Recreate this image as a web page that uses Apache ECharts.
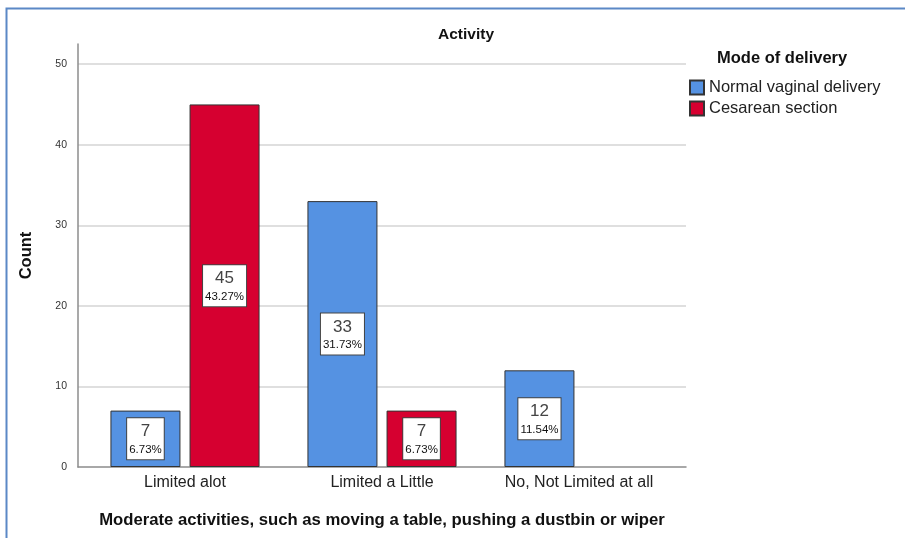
<!DOCTYPE html>
<html>
<head>
<meta charset="utf-8">
<script src="https://cdn.jsdelivr.net/npm/echarts@6/dist/echarts.min.js"></script>
<style>
  html, body { margin: 0; padding: 0; background: #fff; }
  #chart { width: 905px; height: 538px; }
</style>
</head>
<body>
<div id="chart"></div>
<script>
// Clustered bar chart: moderate activity limitation by mode of delivery
const categories = ['Limited alot', 'Limited a Little', 'No, Not Limited at all'];
const seriesNames = ['Normal vaginal delivery', 'Cesarean section'];
const normalVaginal = [7, 33, 12];
const cesarean = [45, 7, null];
const yTicks = [0, 10, 20, 30, 40, 50];

const total = normalVaginal.concat(cesarean).reduce((s, v) => s + (v || 0), 0);

const FONT = 'Liberation Sans, Arial, sans-serif';
const blue = '#5592E2';
const red = '#D60030';

function countLabel(p) {
  if (p.value == null) return '';
  const pct = (p.value / total * 100).toFixed(2) + '%';
  return '{n|' + p.value + '}\n{p|' + pct + '}';
}

const labelStyle = {
  show: true,
  position: 'inside',
  formatter: countLabel,
  backgroundColor: '#fff',
  borderColor: '#444',
  borderWidth: 1,
  padding: [3, 2, 2, 2],
  align: 'center',
  rich: {
    n: { fontFamily: FONT, fontSize: 17, color: '#444', lineHeight: 21, align: 'center' },
    p: { fontFamily: FONT, fontSize: 11.5, color: '#111', lineHeight: 15, align: 'center' }
  }
};

const chart = echarts.init(document.getElementById('chart'), null, { renderer: 'canvas' });

chart.setOption({
  animation: false,
  backgroundColor: '#fff',
  graphic: [{
    type: 'rect',
    left: 4, top: 6,
    shape: { width: 960, height: 600 },
    style: { fill: 'none', stroke: '#5B88C6', lineWidth: 2 },
    silent: true
  }],
  title: [{
    text: 'Activity',
    left: 461, top: 22,
    textAlign: 'center',
    textStyle: { fontFamily: FONT, fontSize: 15.5, fontWeight: 'bold', color: '#111' }
  }, {
    text: 'Mode of delivery',
    left: 717, top: 50,
    padding: 0,
    textStyle: { fontFamily: FONT, fontSize: 16.5, fontWeight: 'bold', color: '#111' }
  }],
  legend: {
    orient: 'vertical',
    left: 689, top: 78,
    padding: 0,
    itemWidth: 14, itemHeight: 14,
    itemGap: 2,
    icon: 'rect',
    textStyle: { fontFamily: FONT, fontSize: 16.5, color: '#222', lineHeight: 19 },
    data: seriesNames
  },
  grid: [
    { left: 78, top: 44, width: 608, height: 423, containLabel: false },
    { left: 86.5, top: 44, width: 591, height: 423, containLabel: false }
  ],
  xAxis: [{
    gridIndex: 0,
    type: 'value',
    min: 0, max: 1,
    axisLine: { show: true, onZero: false, lineStyle: { color: '#8c8c8c', width: 1.5 } },
    axisTick: { show: false },
    axisLabel: { show: false },
    splitLine: { show: false }
  }, {
    gridIndex: 1,
    type: 'category',
    data: categories,
    axisLine: { show: false },
    axisTick: { show: false },
    axisLabel: { fontFamily: FONT, fontSize: 16, color: '#222', margin: 8 },
    name: 'Moderate activities, such as moving a table, pushing a dustbin or wiper',
    nameLocation: 'middle',
    nameGap: 45,
    nameTextStyle: { fontFamily: FONT, fontSize: 16.7, fontWeight: 'bold', color: '#111' }
  }],
  yAxis: [{
    gridIndex: 0,
    type: 'value',
    min: yTicks[0], max: 52.5,
    interval: yTicks[1] - yTicks[0],
    axisLine: { show: true, lineStyle: { color: '#8c8c8c', width: 1.5 } },
    axisTick: { show: false },
    axisLabel: { fontFamily: FONT, fontSize: 10.5, color: '#333', margin: 11, showMaxLabel: false },
    splitLine: { show: true, showMinLine: false, showMaxLine: false, lineStyle: { color: '#d4d4d4', width: 1.5 } },
    name: 'Count',
    nameLocation: 'middle',
    nameRotate: 90,
    nameGap: 43,
    nameTextStyle: { fontFamily: FONT, fontSize: 16.5, fontWeight: 'bold', color: '#111' }
  }, {
    gridIndex: 1,
    type: 'value',
    min: yTicks[0], max: 52.5,
    show: false
  }],
  series: [{
    name: seriesNames[0],
    type: 'bar',
    xAxisIndex: 1, yAxisIndex: 1,
    barWidth: 70,
    barGap: '13%',
    data: normalVaginal,
    itemStyle: { color: blue, borderColor: '#333', borderWidth: 1 },
    label: labelStyle
  }, {
    name: seriesNames[1],
    type: 'bar',
    xAxisIndex: 1, yAxisIndex: 1,
    barWidth: 70,
    barGap: '13%',
    data: cesarean,
    itemStyle: { color: red, borderColor: '#333', borderWidth: 1 },
    label: labelStyle
  }]
});
</script>
</body>
</html>
